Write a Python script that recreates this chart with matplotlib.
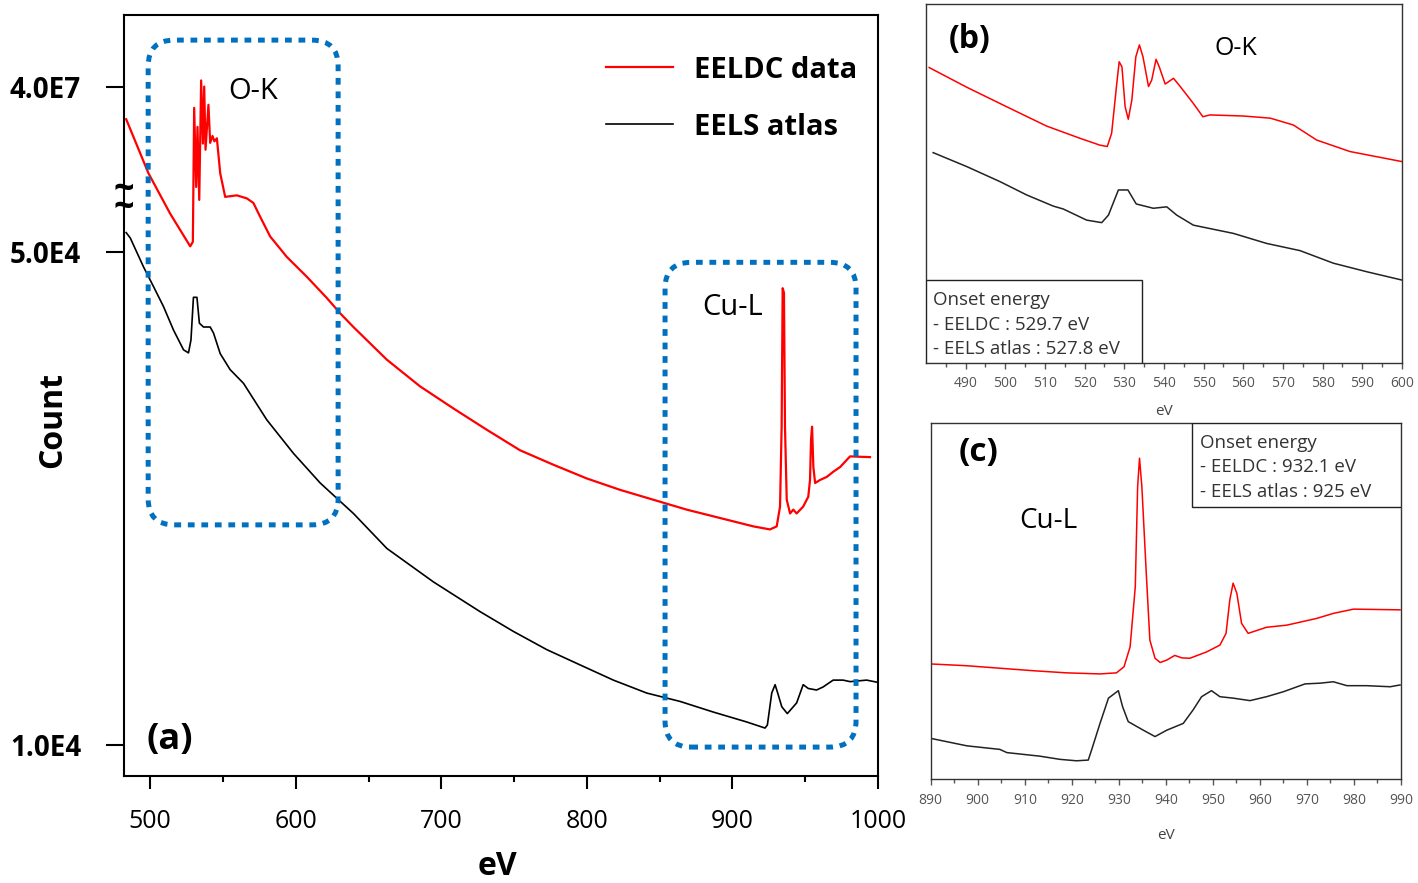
import numpy as np
import matplotlib.pyplot as plt
from matplotlib.patches import FancyBboxPatch, Rectangle
import matplotlib.transforms as mtransforms

plt.rcParams['font.family'] = ['Open Sans', 'DejaVu Sans']

# ---- (a) wide range, display scale 0-100 (broken count axis) ----
ev_red_a = [483.5, 498.8, 513.7, 527.5, 529.3, 530.2, 531.6, 532.5, 533.7, 535.0,
            536.2, 537.1, 538.0, 540.0, 541.2, 542.8, 544.1, 545.8, 548.1, 551.5,
            559.5, 566.4, 570.9, 575.5, 582.4, 593.9, 607.6, 621.4, 630.5, 639.6,
            662.6, 685.4, 708.3, 731.2, 754.1, 777.0, 799.9, 822.8, 845.7, 868.6,
            891.5, 914.4, 925.8, 930.4, 932.7, 933.8, 934.5, 935.4, 936.1, 937.3,
            939.6, 941.8, 944.1, 948.6, 952.1, 953.3, 954.0, 954.7, 955.6, 956.8,
            960.2, 964.8, 969.4, 974.0, 980.8, 994.5]
cnt_red_a = [86.3, 79.2, 73.9, 69.6, 70.2, 87.8, 77.4, 85.3, 75.7, 91.4,
             83.1, 90.6, 82.3, 88.2, 83.2, 84.1, 83.4, 83.8, 79.2, 76.1,
             76.3, 75.9, 75.3, 73.5, 70.9, 68.2, 65.6, 62.8, 60.8, 59.0,
             54.7, 51.2, 48.3, 45.5, 42.8, 40.9, 39.1, 37.6, 36.3, 35.0,
             33.9, 32.8, 32.4, 32.8, 35.4, 45.9, 64.1, 63.5, 45.9, 36.3,
             34.5, 35.0, 34.5, 35.4, 36.7, 38.9, 44.2, 45.9, 40.6, 38.5,
             38.9, 39.3, 40.0, 40.6, 42.0, 41.9]

ev_blk_a = [483.5, 486.3, 495.4, 502.3, 509.1, 516.0, 522.9, 526.3, 528.0, 529.7,
            532.1, 533.8, 536.6, 541.2, 543.5, 548.1, 554.9, 564.1, 580.1, 598.4,
            616.8, 625.9, 639.6, 662.6, 694.6, 726.6, 749.5, 772.5, 795.3, 818.2,
            841.1, 864.0, 886.9, 909.8, 922.4, 924.0, 927.0, 929.3, 931.1, 933.9,
            937.7, 944.1, 948.6, 952.1, 957.8, 962.3, 969.2, 976.0, 980.8, 992.2, 1000.0]
cnt_blk_a = [71.4, 70.7, 66.9, 64.3, 61.7, 58.6, 56.0, 55.6, 57.3, 62.9,
             62.9, 59.5, 59.0, 59.0, 58.2, 55.5, 53.4, 51.6, 46.8, 42.4,
             38.5, 36.9, 34.5, 29.9, 25.5, 21.6, 19.0, 16.6, 14.6, 12.6,
             10.9, 9.8, 8.4, 7.1, 6.3, 6.7, 10.9, 12.0, 10.9, 9.1,
             8.2, 9.6, 12.0, 11.5, 11.3, 11.7, 12.6, 12.6, 12.4, 12.6, 12.3]

a_ytick_pos = [90.5, 68.9, 4.1]
a_ytick_lab = ['4.0E7', '5.0E4', '1.0E4']
break_pos = 75.7

# edge regions marked by dotted boxes: (ev0, ev1, y0, y1)
ok_region = (498.6, 629.1, 33.0, 96.7)
cu_region = (853.7, 984.9, 3.8, 67.5)

# ---- (b) O-K edge ----
ev_red_b = [480.8, 490.3, 500.3, 510.4, 518.8, 523.8, 525.7, 526.8, 528.1, 528.7,
            529.4, 530.2, 531.0, 531.9, 532.9, 533.8, 534.7, 536.1, 536.9, 538.0,
            538.8, 540.3, 542.4, 544.1, 547.4, 549.8, 551.6, 560.0, 566.8, 572.6,
            578.5, 586.9, 600.0]
int_red_b = [82.3, 76.8, 71.4, 66.0, 62.6, 60.7, 60.3, 64.0, 77.9, 83.9,
             82.5, 71.4, 67.9, 73.3, 85.3, 88.6, 85.3, 77.0, 78.8, 84.6,
             82.5, 77.7, 79.3, 77.0, 72.3, 68.6, 69.1, 68.8, 68.2, 66.3,
             62.1, 58.9, 56.1]
ev_blk_b = [481.8, 490.3, 498.7, 505.4, 512.1, 514.6, 520.5, 524.3, 526.0, 528.5,
            530.9, 533.0, 537.3, 540.7, 543.2, 547.4, 557.5, 565.9, 574.3, 582.7,
            591.2, 600.0]
int_blk_b = [58.6, 54.7, 50.5, 46.8, 43.7, 42.9, 39.8, 39.1, 41.2, 48.2,
             48.2, 44.3, 43.1, 43.5, 41.2, 38.4, 36.1, 33.3, 31.3, 27.8,
             25.4, 23.1]

# ---- (c) Cu-L edge ----
ev_red_c = [890.0, 897.7, 904.7, 911.8, 918.9, 926.0, 929.5, 931.1, 932.4, 933.5,
            934.0, 934.4, 934.9, 935.8, 936.6, 937.7, 938.8, 940.2, 941.9, 943.4,
            945.1, 948.7, 951.5, 952.8, 953.6, 954.3, 955.1, 956.1, 957.5, 961.4,
            965.7, 972.1, 975.6, 979.9, 989.8]
int_red_c = [32.4, 31.9, 31.2, 30.5, 29.9, 29.6, 29.9, 31.6, 37.2, 54.1,
             82.2, 90.2, 82.2, 58.8, 39.1, 34.0, 32.8, 33.5, 34.8, 34.1,
             34.0, 35.8, 37.7, 41.0, 50.4, 55.1, 52.2, 43.8, 41.0, 42.7,
             43.3, 45.2, 46.6, 47.8, 47.6]
ev_blk_c = [890.0, 897.7, 904.7, 906.2, 913.2, 917.5, 921.0, 923.5, 924.2, 926.0,
            927.8, 929.9, 930.8, 932.0, 935.2, 937.7, 940.2, 943.7, 945.8, 947.6,
            949.7, 951.5, 954.3, 957.9, 961.4, 965.0, 969.6, 972.8, 975.6, 978.5,
            982.7, 987.7, 989.8]
int_blk_c = [11.5, 9.4, 8.4, 7.5, 6.5, 5.6, 5.2, 5.4, 8.2, 15.7,
             22.8, 24.9, 20.4, 16.2, 13.8, 12.0, 13.8, 15.7, 19.5, 23.2,
             24.9, 23.2, 22.8, 22.1, 23.2, 24.6, 26.8, 27.0, 27.4, 26.3,
             26.3, 26.0, 26.5]

onset_b = ['Onset energy', '- EELDC : 529.7 eV', '- EELS atlas : 527.8 eV']
onset_c = ['Onset energy', '- EELDC : 932.1 eV', '- EELS atlas : 925 eV']

RED = '#ff0000'
BLUE = '#0070C0'

fig = plt.figure(figsize=(14.18, 8.83), dpi=100)

# ================= (a) =================
ax = fig.add_axes([0.08745, 0.12118, 0.53173, 0.86184])
ax.plot(ev_red_a, cnt_red_a, color=RED, lw=1.6, label='EELDC data')
ax.plot(ev_blk_a, cnt_blk_a, color='black', lw=1.2, label='EELS atlas')
ax.set_xlim(482, 1000)
ax.set_ylim(0, 100)
ax.set_xticks([500, 600, 700, 800, 900, 1000])
ax.set_xticks([550, 650, 750, 850, 950], minor=True)
ax.set_yticks(a_ytick_pos)
ax.set_yticklabels(a_ytick_lab, fontweight='bold')
ax.tick_params(axis='x', which='major', length=9, width=1.5, labelsize=18, pad=15)
ax.tick_params(axis='x', which='minor', length=4, width=1.5)
ax.tick_params(axis='y', which='major', length=13, width=1.5, labelsize=20, pad=18)
for s in ax.spines.values():
    s.set_linewidth(1.5)
ax.set_xlabel('eV', fontsize=23, fontweight='bold')
ax.xaxis.set_label_coords(0.495, -0.097)
ax.set_ylabel('Count', fontsize=23, fontweight='bold')
ax.yaxis.set_label_coords(-0.073, 0.468)

for (x0, x1, y0, y1) in (ok_region, cu_region):
    box = FancyBboxPatch((x0, y0), x1 - x0, y1 - y0,
                         boxstyle='round,pad=0,rounding_size=18',
                         mutation_aspect=0.191, fill=False, ec=BLUE,
                         lw=3.6, ls=(0, (1.35, 1.35)), zorder=3)
    ax.add_patch(box)

ax.text(570.7, 89.9, 'O-K', fontsize=21, ha='center', va='center')
ax.text(900.4, 61.6, 'Cu-L', fontsize=21, ha='center', va='center')
ax.text(513.7, 4.7, '(a)', fontsize=26, fontweight='bold', ha='center', va='center')

# axis break mark: two stacked tildes on the left spine
trans = mtransforms.blended_transform_factory(ax.transAxes, ax.transData)
ax.text(0, break_pos, '~\n~', transform=trans, fontsize=26, fontweight='bold',
        linespacing=0.35, ha='center', va='center', clip_on=False)

ax.legend(loc='upper left', bbox_to_anchor=(0.624, 0.962), frameon=False,
          prop={'size': 21, 'weight': 'bold'}, handlelength=2.3,
          handletextpad=0.7, labelspacing=0.96, borderaxespad=0)

# ================= (b) =================
bx = fig.add_axes([0.65303, 0.58890, 0.33568, 0.40657])
bx.plot(ev_red_b, int_red_b, color=RED, lw=1.1)
bx.plot(ev_blk_b, int_blk_b, color='#222222', lw=1.1)
bx.set_xlim(480, 600)
bx.set_ylim(0, 100)
bx.set_xticks(np.arange(490, 601, 10))
bx.set_xticks(np.arange(485, 600, 10), minor=True)
bx.set_yticks([])
bx.tick_params(axis='x', which='major', length=4, width=1, labelsize=10,
               colors='#555555', pad=5)
bx.tick_params(axis='x', which='minor', length=3, width=1, colors='#555555')
for s in bx.spines.values():
    s.set_linewidth(1.0)
    s.set_color('#333333')
bx.set_xlabel('eV', fontsize=11, color='#444444', labelpad=10)
bx.text(491.0, 90.0, '(b)', fontsize=23, fontweight='bold', ha='center', va='center')
bx.text(558.2, 87.7, 'O-K', fontsize=18, ha='center', va='center')
bx.add_patch(Rectangle((0, 0), 0.454, 0.231, transform=bx.transAxes,
                       fill=True, fc='white', ec='#222222', lw=1.0, zorder=4))
for line, yy in zip(onset_b, [0.1755, 0.1058, 0.039]):
    bx.text(0.0147, yy, line, transform=bx.transAxes, fontsize=13.5,
            color='#333333', ha='left', va='center', zorder=5)

# ================= (c) =================
cx = fig.add_axes([0.65635, 0.11744, 0.33166, 0.40317])
cx.plot(ev_red_c, int_red_c, color=RED, lw=1.1)
cx.plot(ev_blk_c, int_blk_c, color='#222222', lw=1.1)
cx.set_xlim(890, 990)
cx.set_ylim(0, 100)
cx.set_xticks(np.arange(890, 991, 10))
cx.set_xticks(np.arange(895, 990, 10), minor=True)
cx.set_yticks([])
cx.tick_params(axis='x', which='major', length=4, width=1, labelsize=10,
               colors='#555555', pad=6)
cx.tick_params(axis='x', which='minor', length=3, width=1, colors='#555555')
for s in cx.spines.values():
    s.set_linewidth(1.0)
    s.set_color('#333333')
cx.set_xlabel('eV', fontsize=11, color='#444444', labelpad=14)
cx.text(900.1, 91.7, '(c)', fontsize=24, fontweight='bold', ha='center', va='center')
cx.text(915.0, 72.6, 'Cu-L', fontsize=20, ha='center', va='center')
cx.add_patch(Rectangle((0.556, 0.766), 0.444, 0.234, transform=cx.transAxes,
                       fill=True, fc='white', ec='#222222', lw=1.0, zorder=4))
for line, yy in zip(onset_c, [0.945, 0.877, 0.807]):
    cx.text(0.573, yy, line, transform=cx.transAxes, fontsize=13.5,
            color='#333333', ha='left', va='center', zorder=5)

fig.savefig('out.png', dpi=100)
